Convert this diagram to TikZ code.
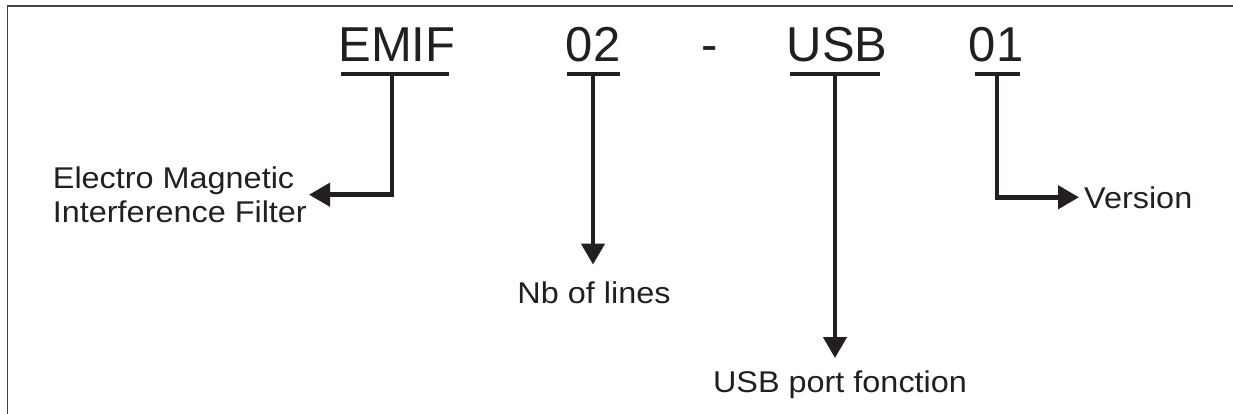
\documentclass[tikz,border=0pt]{standalone}
\usepackage{fontspec}
\setmainfont{Liberation Sans}
\newfontfamily\labfont[FakeStretch=1.08]{Liberation Sans}
\usetikzlibrary{arrows.meta}
\definecolor{ink}{HTML}{231F20}
\definecolor{framecol}{HTML}{444444}
\begin{document}
\begin{tikzpicture}[x=1pt,y=-1pt,
  big/.style={font=\fontsize{49}{58}\selectfont, text=ink, inner sep=0pt, anchor=base},
  lab/.style={font=\labfont\fontsize{30}{34}\selectfont, text=ink, inner sep=0pt},
  bar/.style={draw=ink, line width=4.5pt},
  conn/.style={draw=ink, line width=4.5pt, -{Triangle[length=21pt,width=23pt]}},
  frameline/.style={draw=framecol, line width=1.5pt}]
\useasboundingbox (0,0) rectangle (1233,414);
\draw[frameline] (7.5,414) -- (7.5,6) -- (1233,6);

% code letters
\node[big] (emif) at (397,62) {EMIF};
\node[big] (n02)  at (593,62) {02};
\node[big] (dash) at (710,62) {-};
\node[big] (usb)  at (837,62) {USB};
\node[big] (n01)  at (996,62) {01};

% underline end points and stem roots
\coordinate (emifL) at (341,74);  \coordinate (emifR) at (449,74);  \coordinate (emifS) at (392,74);
\coordinate (n02L)  at (567,74);  \coordinate (n02R)  at (620,74);  \coordinate (n02S)  at (593,74);
\coordinate (usbL)  at (790,74);  \coordinate (usbR)  at (880,74);  \coordinate (usbS)  at (835,74);
\coordinate (n01L)  at (975,74);  \coordinate (n01R)  at (1020,74); \coordinate (n01S)  at (997,74);

% labels
\node[lab, align=left, anchor=north east, inner xsep=2pt] (emiflab) at (309,166.5)
  {Electro Magnetic\\Interference Filter};
\node[lab, anchor=base] (nb) at (594,303) {Nb of lines};
\node[lab, anchor=base] (usblab) at (840,392) {USB port fonction};
\node[lab, anchor=base west, inner xsep=5pt] (ver) at (1079,208) {Version};

% underlines
\draw[bar] (emifL) -- (emifR);
\draw[bar] (n02L) -- (n02R);
\draw[bar] (usbL) -- (usbR);
\draw[bar] (n01L) -- (n01R);

% connectors
\draw[conn] (emifS) |- (emiflab.east);
\draw[conn, shorten >=16.5pt] (n02S) -- (n02S |- nb.north);
\draw[conn, shorten >=12pt] (usbS) -- (usbS |- usblab.north);
\draw[conn] (n01S) |- (ver.west);
\end{tikzpicture}
\end{document}
